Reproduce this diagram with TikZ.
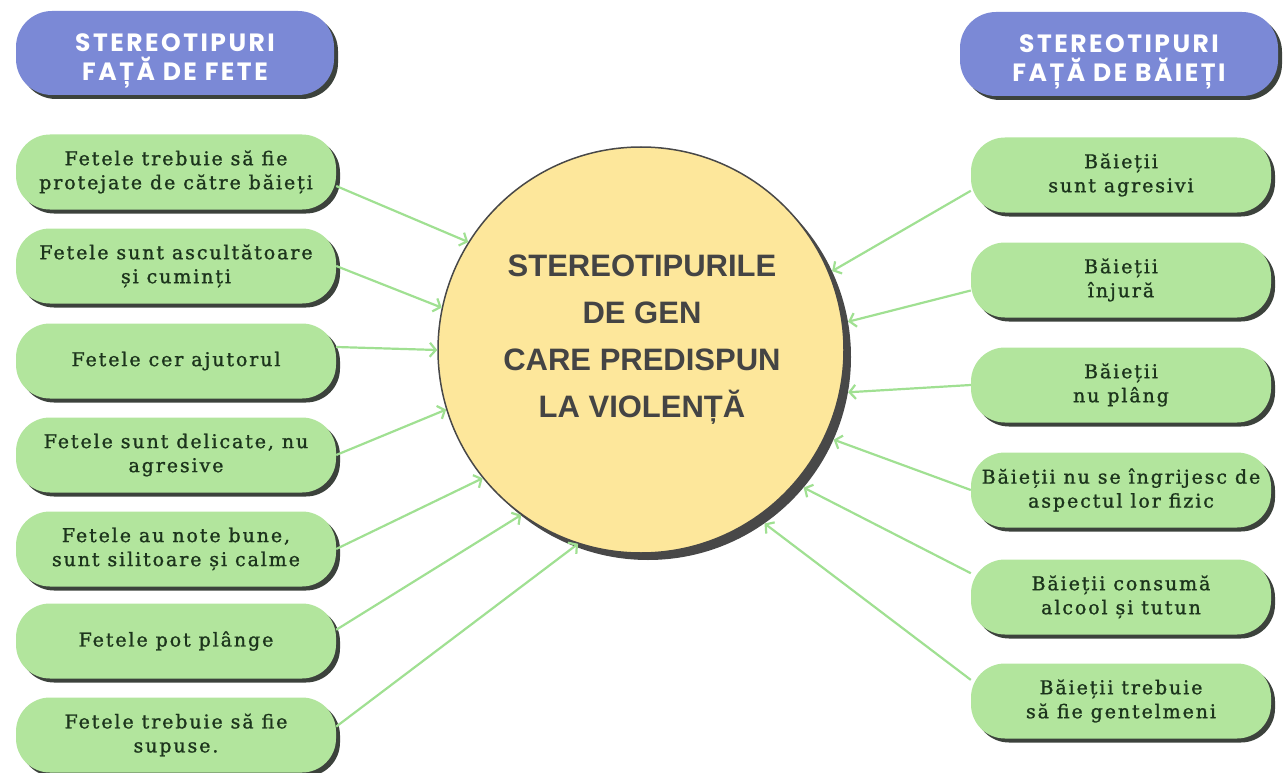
\documentclass[tikz,border=0pt]{standalone}
\usepackage{fontspec}
\usepackage{tikz}
\usetikzlibrary{shadows,arrows.meta}
\newfontfamily\headfont[LetterSpace=10]{Poppins}
\newfontfamily\circfont{Liberation Sans}
\newfontfamily\boxfont[LetterSpace=10,FakeBold=1.2]{DejaVu Serif}
\definecolor{headblue}{RGB}{123,137,214}
\definecolor{boxgreen}{RGB}{178,229,157}
\definecolor{arrowgreen}{RGB}{160,224,146}
\definecolor{textgreen}{RGB}{28,52,28}
\definecolor{shadowgrey}{RGB}{60,66,60}
\definecolor{circyellow}{RGB}{253,231,155}
\definecolor{circline}{RGB}{72,72,72}
\definecolor{circtext}{RGB}{68,68,68}
\newcommand{\hstrut}{\rule{0pt}{34pt}}

\begin{document}
\begin{tikzpicture}[x=1pt,y=1pt,yscale=-1,
  headbox/.style={rounded corners=36pt,fill=headblue,minimum width=318pt,minimum height=84pt,
    drop shadow={shadow xshift=4pt,shadow yshift=-4pt,fill=shadowgrey,opacity=1},
    text=white,align=center,font=\headfont\bfseries\fontsize{25}{29}\selectfont},
  fbox/.style={rounded corners=34pt,fill=boxgreen,minimum width=320pt,minimum height=75pt,
    drop shadow={shadow xshift=4pt,shadow yshift=-4pt,fill=shadowgrey,opacity=1},
    text=textgreen,align=center,font=\boxfont\fontsize{19}{24}\selectfont},
  bbox/.style={fbox,minimum width=300pt},
  arr/.style={draw=arrowgreen,line width=2.2pt,-{Straight Barb[length=6pt,width=14pt]}}]
\useasboundingbox (0,0) rectangle (1283,773);

%Shape: Circle
\node[circle,fill=circline,minimum size=406pt,inner sep=0pt] (violsh) at (648,357) {};
\node[circle,fill=circyellow,draw=circline,line width=1.5pt,minimum size=406pt,inner sep=0pt] (viol) at (641,350) {};
% Text Node
\node[font=\circfont\bfseries\fontsize{31}{47}\selectfont,text=circtext,align=center] (violtxt) at (642,340) {STEREOTIPURILE\\DE GEN\\CARE PREDISPUN\\LA VIOLENȚĂ};

%Headers
\node[headbox] (hfete) at (175,53) {\hstrut STEREOTIPURI\\FAȚĂ DE FETE};
\node[headbox] (hbaieti) at (1119,54) {\hstrut STEREOTIPURI\\FAȚĂ DE BĂIEȚI};

%Rounded Rect: fete
\node[fbox] (f1) at (176,172) {Fetele trebuie să fie\\protejate de către băieți};
\node[fbox] (f2) at (176,266) {Fetele sunt ascultătoare\\și cuminți};
\node[fbox] (f3) at (176,361) {Fetele cer ajutorul};
\node[fbox] (f4) at (176,455) {Fetele sunt delicate, nu\\agresive};
\node[fbox] (f5) at (176,549) {Fetele au note bune,\\sunt silitoare și calme};
\node[fbox] (f6) at (176,641) {Fetele pot plânge};
\node[fbox] (f7) at (176,735) {Fetele trebuie să fie\\supuse.};

%Rounded Rect: baieti
\node[bbox] (b1) at (1121,175) {Băieții\\sunt agresivi};
\node[bbox] (b2) at (1121,280) {Băieții\\înjură};
\node[bbox] (b3) at (1121,385) {Băieții\\nu plâng};
\node[bbox] (b4) at (1121,490) {Băieții nu se îngrijesc de\\aspectul lor fizic};
\node[bbox] (b5) at (1121,597) {Băieții consumă\\alcool și tutun};
\node[bbox] (b6) at (1121,701) {Băieții trebuie\\să fie gentelmeni};

%Straight Lines
\draw[arr] (f1.-5) -- (viol.148.5);
\draw[arr] (f2.east) -- (viol.168.7);
\draw[arr] (f3.5) -- (viol.180);
\draw[arr] (f4.east) -- (viol.197.4);
\draw[arr] (f5.east) -- (viol.219.4);
\draw[arr] (f6.4) -- (viol.234.2);
\draw[arr] (f7.3) -- (viol.252.5);

\draw[arr] (b1.186) -- (violsh.25);
\draw[arr] (b2.184) -- (violsh.10);
\draw[arr] (b3.west) -- (violsh.-10.2);
\draw[arr] (b4.west) -- (violsh.-24);
\draw[arr] (b5.171) -- (violsh.-40.7);
\draw[arr] (b6.172) -- (violsh.-55.3);

\end{tikzpicture}
\end{document}
